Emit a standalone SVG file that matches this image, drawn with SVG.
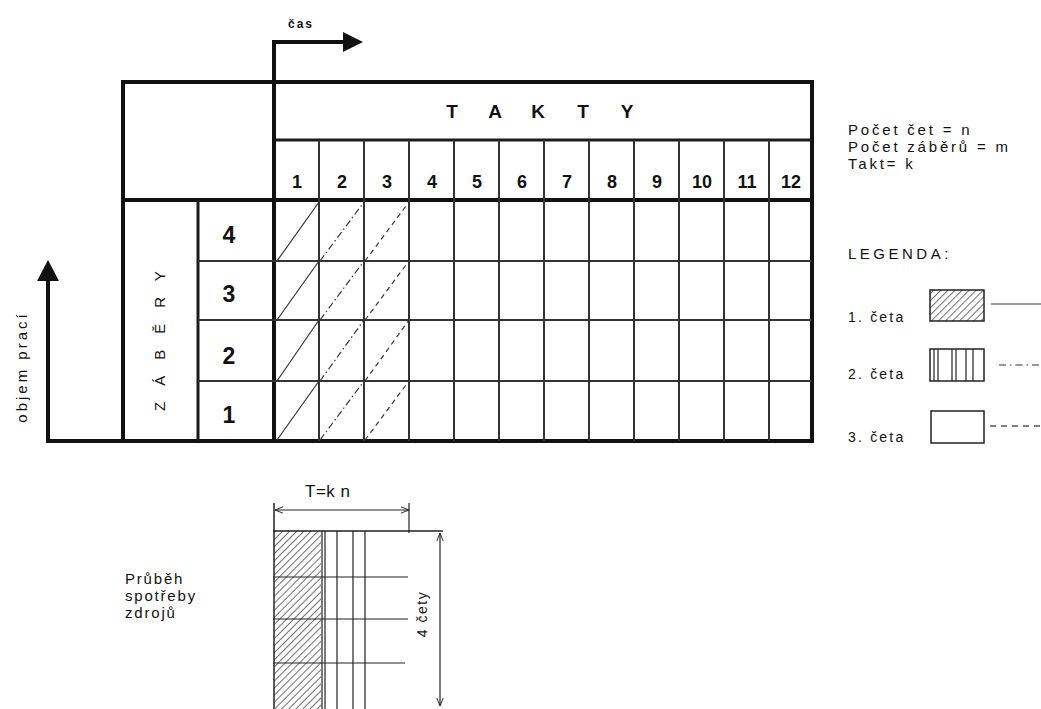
<svg xmlns="http://www.w3.org/2000/svg" width="1041" height="709" viewBox="0 0 1041 709">
<style>
.thick{stroke:#111;stroke-width:4;fill:none}
.med{stroke:#1a1a1a;stroke-width:3;fill:none}
.thin{stroke:#333;stroke-width:2;fill:none}
.hair{stroke:#222;stroke-width:1.2;fill:none}
.d1{stroke:#333;stroke-width:1.2;fill:none}
.d2{stroke:#333;stroke-width:1.2;fill:none;stroke-dasharray:7 3 1.5 3}
.d3{stroke:#333;stroke-width:1.2;fill:none;stroke-dasharray:5 4}
.b{font-family:"Liberation Sans",Arial,sans-serif;font-weight:bold;fill:#111;text-anchor:middle}
.s{font-family:"Liberation Sans",Arial,sans-serif;fill:#111}
</style>
<defs>
<pattern id="hatch" patternUnits="userSpaceOnUse" width="5" height="5" patternTransform="rotate(45)">
<line x1="0" y1="0" x2="0" y2="5" stroke="#222" stroke-width="1.3"/>
</pattern>
<marker id="ah" viewBox="0 0 10 10" refX="10" refY="5" markerWidth="8" markerHeight="8" orient="auto-start-reverse" markerUnits="userSpaceOnUse">
<path d="M0,1 L10,5 L0,9" fill="none" stroke="#222" stroke-width="1.2"/>
</marker>
</defs>
<rect width="1041" height="709" fill="#fff"/>

<g id="axes">
<line class="thick" x1="48" y1="441" x2="812" y2="441"/>
<line class="thick" x1="48" y1="443" x2="48" y2="278"/>
<polygon points="48,260 37,281 59,281" fill="#111"/>
<line class="thick" x1="274" y1="82" x2="274" y2="42"/>
<line class="thick" x1="272" y1="42" x2="345" y2="42"/>
<polygon points="363,42 343,32 343,52" fill="#111"/>
<text class="b" x="301" y="28" font-size="12" letter-spacing="2">čas</text>
<text class="s" font-size="15" letter-spacing="3" transform="translate(27,367) rotate(-90)" text-anchor="middle">objem prací</text>
</g>

<g id="table">
<rect class="thick" x="123" y="82" width="689" height="359"/>
<line class="thick" x1="123" y1="200" x2="812" y2="200"/>
<line class="thick" x1="274" y1="82" x2="274" y2="441"/>
<line class="med" x1="274" y1="140" x2="812" y2="140"/>
<line class="med" x1="198" y1="200" x2="198" y2="441"/>
<g class="thin">
<line x1="198" y1="261" x2="812" y2="261"/>
<line x1="198" y1="320" x2="812" y2="320"/>
<line x1="198" y1="381" x2="812" y2="381"/>
<line x1="319" y1="140" x2="319" y2="441"/>
<line x1="364" y1="140" x2="364" y2="441"/>
<line x1="409" y1="140" x2="409" y2="441"/>
<line x1="454" y1="140" x2="454" y2="441"/>
<line x1="499" y1="140" x2="499" y2="441"/>
<line x1="544" y1="140" x2="544" y2="441"/>
<line x1="589" y1="140" x2="589" y2="441"/>
<line x1="634" y1="140" x2="634" y2="441"/>
<line x1="679" y1="140" x2="679" y2="441"/>
<line x1="724" y1="140" x2="724" y2="441"/>
<line x1="769" y1="140" x2="769" y2="441"/>
</g>
<g class="b" font-size="19">
<text x="452" y="118">T</text><text x="495" y="118">A</text><text x="538" y="118">K</text><text x="583" y="118">T</text><text x="627" y="118">Y</text>
</g>
<g class="b" font-size="18">
<text x="297" y="188">1</text><text x="342" y="188">2</text><text x="387" y="188">3</text><text x="432" y="188">4</text><text x="477" y="188">5</text><text x="522" y="188">6</text><text x="567" y="188">7</text><text x="612" y="188">8</text><text x="657" y="188">9</text><text x="702" y="188">10</text><text x="747" y="188">11</text><text x="791" y="188">12</text>
</g>
<g class="b" font-size="23">
<text x="229" y="243">4</text><text x="229" y="302">3</text><text x="229" y="364">2</text><text x="229" y="423">1</text>
</g>
<text class="s" font-size="15" letter-spacing="16" text-anchor="middle" transform="translate(165,333) rotate(-90)">ZÁBĚRY</text>
</g>

<g id="diagonals">
<path class="d1" d="M277,261 L319,202 M277,320 L319,261 M277,381 L319,320 M277,440 L319,381"/>
<path class="d2" d="M320,261 L364,202 M320,320 L364,261 M320,381 L364,320 M320,440 L364,381"/>
<path class="d3" d="M365,261 L409,202 M365,320 L409,261 M365,381 L409,320 M365,440 L409,381"/>
</g>

<g id="info" class="s" font-size="15" letter-spacing="2.8">
<text x="848" y="135">Počet čet = n</text>
<text x="848" y="152">Počet záběrů = m</text>
<text x="848" y="169">Takt= k</text>
</g>

<g id="legend" class="s">
<text x="848" y="259" font-size="15" letter-spacing="3.5">LEGENDA:</text>
<text x="848" y="322" font-size="14" letter-spacing="2.2">1. četa</text>
<text x="848" y="379" font-size="14" letter-spacing="2.2">2. četa</text>
<text x="848" y="442" font-size="14" letter-spacing="2.2">3. četa</text>
<rect x="930" y="290" width="54" height="31" fill="url(#hatch)" stroke="#222" stroke-width="1.5"/>
<rect x="930" y="349" width="54" height="32" fill="#fff" stroke="#222" stroke-width="1.5"/>
<path class="hair" d="M934,349 V381 M938,349 V381 M952,349 V381 M956,349 V381 M966,349 V381 M973,349 V381"/>
<rect x="931" y="411" width="53" height="32" fill="#fff" stroke="#222" stroke-width="1.5"/>
<line x1="991" y1="304" x2="1041" y2="304" stroke="#333" stroke-width="1.2"/>
<line x1="999" y1="365" x2="1041" y2="365" stroke="#333" stroke-width="1.2" stroke-dasharray="7 4 1.5 4"/>
<line x1="990" y1="426" x2="1041" y2="426" stroke="#555" stroke-width="1.5" stroke-dasharray="6 5"/>
</g>

<g id="resources">
<text class="s" x="125" y="584" font-size="15" letter-spacing="1.8">Průběh</text>
<text class="s" x="125" y="601" font-size="15" letter-spacing="1.8">spotřeby</text>
<text class="s" x="125" y="618" font-size="15" letter-spacing="1.8">zdrojů</text>
<text class="s" x="305" y="497" font-size="17" letter-spacing="0.5">T=k n</text>
<line x1="275" y1="510" x2="409" y2="510" stroke="#222" stroke-width="1.2" marker-start="url(#ah)" marker-end="url(#ah)"/>
<line x1="274" y1="503" x2="274" y2="709" stroke="#222" stroke-width="1.5"/>
<line x1="409" y1="503" x2="409" y2="533" stroke="#222" stroke-width="1.2"/>
<rect x="274" y="531" width="47" height="178" fill="url(#hatch)"/>
<line x1="273" y1="531" x2="443" y2="531" stroke="#222" stroke-width="1.5"/>
<path class="hair" d="M273,577 H408 M273,619 H408 M273,663 H405"/>
<path class="hair" d="M322,531 V709 M325,531 V709 M337,531 V709 M353,531 V709 M365,531 V709"/>
<line x1="440" y1="533" x2="440" y2="706" stroke="#222" stroke-width="1.2" marker-start="url(#ah)" marker-end="url(#ah)"/>
<text class="s" font-size="14" letter-spacing="1.5" text-anchor="middle" transform="translate(427,614) rotate(-90)">4 čety</text>
</g>
</svg>
